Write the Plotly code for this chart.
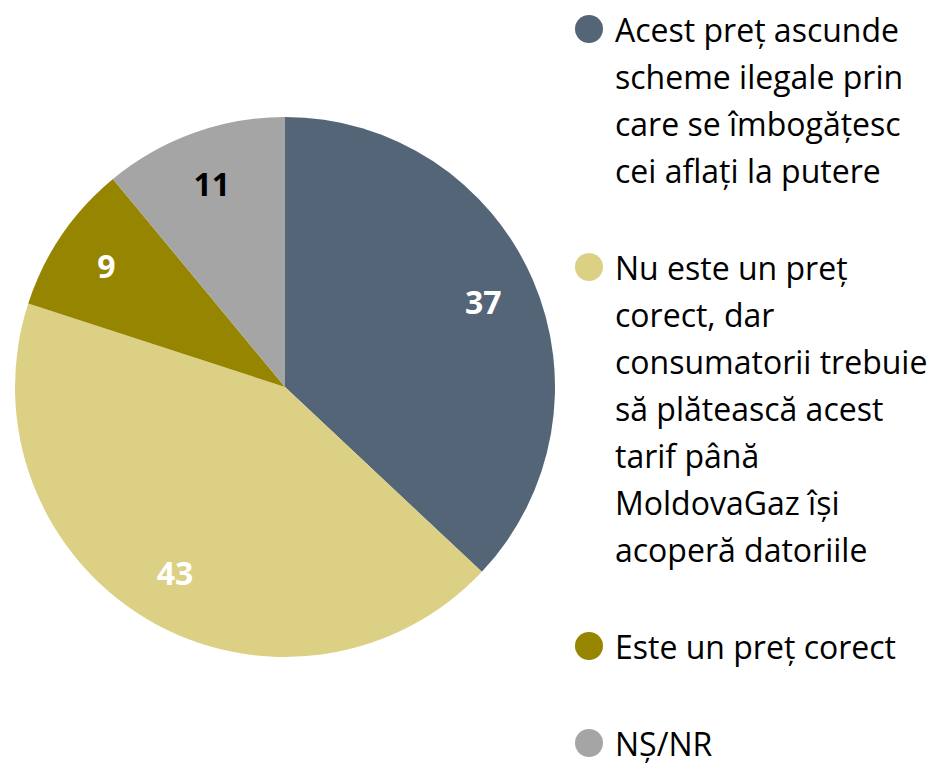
import plotly.graph_objects as go

# Data
categories = [
    "Acest preț ascunde<br>scheme ilegale prin<br>care se îmbogățesc<br>cei aflați la putere",
    "Nu este un preț<br>corect, dar<br>consumatorii trebuie<br>să plătească acest<br>tarif până<br>MoldovaGaz își<br>acoperă datoriile",
    "Este un preț corect",
    "NȘ/NR",
]
values = [37, 43, 9, 11]
colors = ["#546578", "#DCD084", "#968500", "#A5A5A5"]
label_colors = ["white", "white", "white", "black"]

# page body has an 8px margin, so the figure is offset by 8px
W, H = 928, 757
FONT = "Open Sans"

cx, cy, R = 277, 379, 270
dom = dict(x=[(cx - R) / W, (cx + R) / W], y=[(H - cy - R) / H, (H - cy + R) / H])

fig = go.Figure()

# Full pie (slices)
fig.add_trace(go.Pie(
    labels=[c.replace("<br>", " ") for c in categories],
    values=values,
    sort=False,
    direction="clockwise",
    rotation=0,
    marker=dict(colors=colors, line=dict(width=0)),
    textinfo="none",
    showlegend=False,
    hoverinfo="label+value",
    domain=dom,
))

# Transparent ring overlay to place the value labels near the outer part
fig.add_trace(go.Pie(
    labels=[c.replace("<br>", " ") for c in categories],
    values=values,
    sort=False,
    direction="clockwise",
    rotation=0,
    hole=0.6,
    marker=dict(colors=["rgba(0,0,0,0)"] * len(values), line=dict(width=0)),
    texttemplate="%{value}",
    textposition="inside",
    insidetextorientation="horizontal",
    textfont=dict(family=FONT, size=32, color=label_colors, weight="bold"),
    showlegend=False,
    hoverinfo="skip",
    domain=dom,
))

# Custom legend (circles + per-line text), positioned in pixel units
line_pitch = 47
item_gap = 97
first_y = 21
marker_x = 581
text_x = 605

leg_y = []
y = first_y
for i, cat in enumerate(categories):
    lines = cat.split("<br>")
    leg_y.append(y)
    for j, ln in enumerate(lines):
        fig.add_annotation(
            x=text_x, y=y + j * line_pitch, xref="x", yref="y",
            text=ln, showarrow=False, xanchor="left", yanchor="middle",
            font=dict(family=FONT, size=32, color="black"),
        )
    y += (len(lines) - 1) * line_pitch + item_gap

fig.add_trace(go.Scatter(
    x=[marker_x] * len(categories), y=leg_y, mode="markers",
    marker=dict(size=28, color=colors, symbol="circle"),
    showlegend=False, hoverinfo="skip",
))

fig.update_layout(
    width=W, height=H,
    margin=dict(l=0, r=0, t=0, b=0),
    paper_bgcolor="white", plot_bgcolor="rgba(0,0,0,0)",
    xaxis=dict(range=[0, W], visible=False, fixedrange=True),
    yaxis=dict(range=[H, 0], visible=False, fixedrange=True),
    showlegend=False,
)

fig.write_html("out.html")
